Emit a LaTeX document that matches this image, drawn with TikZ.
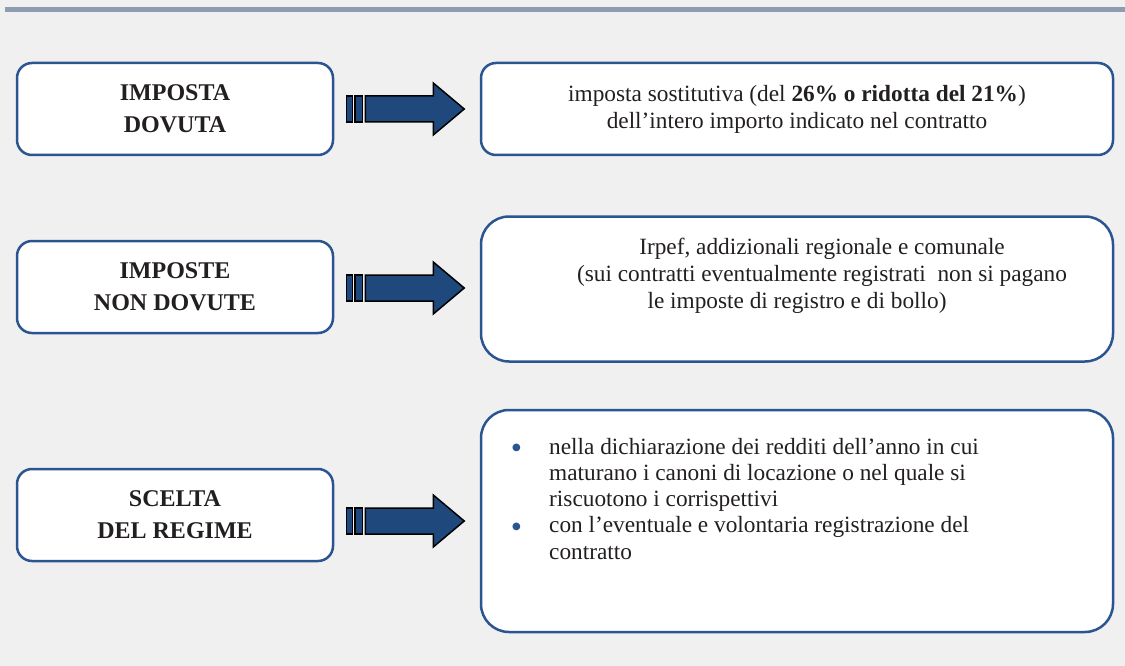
\documentclass[tikz,border=0pt]{standalone}
\usepackage{fontspec}
\setmainfont{Liberation Serif}
\newfontfamily\dotfont{DejaVu Sans}
\usetikzlibrary{calc}

\definecolor{boxblue}{HTML}{2B5591}
\definecolor{arrowblue}{HTML}{1F497D}
\definecolor{rulegray}{HTML}{8D9CB1}
\definecolor{bggray}{HTML}{F0F0F0}
\definecolor{inkgray}{HTML}{231F20}

\newcommand{\bluedot}{\raisebox{3.5pt}{\textcolor{boxblue}{\dotfont\fontsize{10}{10}\selectfont ●}}}

\tikzset{
  leftbox/.style={draw=boxblue,line width=2.5pt,fill=white,rounded corners=15pt,
    minimum width=316pt,minimum height=92pt,align=center,text=inkgray,
    font=\fontsize{24}{32}\selectfont\bfseries},
  rightbox/.style={draw=boxblue,line width=2.5pt,fill=white,rounded corners=#1,
    minimum width=632pt,inner sep=0pt},
  rightbox/.default=15pt,
  bodytext/.style={font=\fontsize{23.3}{27}\selectfont,text=inkgray,align=center},
  pics/blockarrow/.style={code={
    \draw[line width=1.5pt,fill=arrowblue] (0,-13) rectangle (6,13);
    \draw[line width=1.5pt,fill=arrowblue] (8.5,-13) rectangle (16,13);
    \draw[line width=1.5pt,fill=arrowblue,line join=miter]
      (19,-13) -- (87,-13) -- (87,-26) -- (118,0) -- (87,26) -- (87,13) -- (19,13) -- cycle;
  }}
}

\begin{document}
\begin{tikzpicture}[x=1pt,y=-1pt]
          \fill[bggray] (0,0) rectangle (1125,666);
          \useasboundingbox (0,0) rectangle (1125,666);
          \draw[rulegray,line width=5pt] (5,10) -- (1125,10);

          % left column
          \node[leftbox] (dovuta) at (175,109) {IMPOSTA\\DOVUTA};
          \node[leftbox] (nondovute) at (175,287) {IMPOSTE\\NON DOVUTE};
          \node[leftbox] (regime) at (175,515) {SCELTA\\DEL REGIME};

          % right column
          \node[rightbox,minimum height=92pt,bodytext] (sostitutiva) at (797,109)
            {imposta sostitutiva (del \textbf{26\% o ridotta del 21\%})\\
             dell’intero importo indicato nel contratto};
          \node[rightbox=28pt,minimum height=145pt] (irpef) at (797,289) {};
          \node[bodytext] (irpeftext) at (822,276)
            {Irpef, addizionali regionale e comunale\\
             (sui contratti eventualmente registrati\ \ non si pagano\\
             le imposte di registro e di bollo)\hspace*{50pt}};
          \node[rightbox=28pt,minimum height=222pt] (modalita) at (797,521) {};
          \node[font=\fontsize{23.3}{26.3}\selectfont,text=inkgray,anchor=base west,
            inner sep=0pt] (modalitatext) at (512,454)
            {\begin{tabular}[t]{@{}p{37pt}@{}l@{}}
              \bluedot & nella dichiarazione dei redditi dell’anno in cui\\
              & maturano i canoni di locazione o nel quale si\\
              & riscuotono i corrispettivi\\
              \bluedot & con l’eventuale e volontaria registrazione del\\
              & contratto
            \end{tabular}};

          % block arrows
          \pic at ($(dovuta.east)+(12,0)$) {blockarrow};
          \pic at ($(nondovute.east)+(12,1)$) {blockarrow};
          \pic at ($(regime.east)+(12,6)$) {blockarrow};
        \end{tikzpicture}
\end{document}
